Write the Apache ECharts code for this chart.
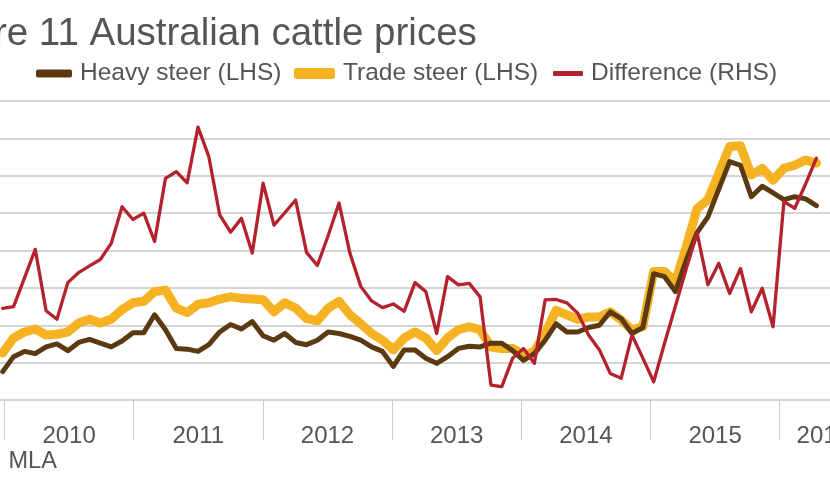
<!DOCTYPE html>
<html>
<head>
<meta charset="utf-8">
<script src="https://cdn.jsdelivr.net/npm/echarts@6/dist/echarts.min.js"></script>
<style>
html,body{margin:0;padding:0;background:#fff;}
#chart{width:830px;height:483px;}
</style>
</head>
<body>
<div id="chart"></div>
<script>
// Year categories for the x axis
const years = ['2010','2011','2012','2013','2014','2015','2016'];
// Monthly data, Jan 2010 onwards (76 months)
const heavySteer = [238,258,265,262,271,275,266,277,281,276,271,279,290,290,314,294,269,268,265,274,291,301,295,305,286,280,289,277,274,280,291,289,285,280,271,265,245,267,267,256,249,258,269,272,271,276,276,266,253,262,280,302,291,291,297,300,318,309,289,297,369,365,345,387,424,445,482,519,514,472,486,477,468,472,469,460];
const tradeSteer = [263,283,291,295,287,288,291,303,308,303,308,321,330,332,345,347,323,317,328,330,335,338,336,335,334,318,330,323,309,306,323,332,314,302,289,280,267,283,291,283,266,283,294,298,294,271,269,269,260,265,289,320,314,308,311,311,318,307,294,298,372,372,358,405,456,468,503,539,540,501,510,494,510,514,521,517];
const difference = [24.5,25.0,32.6,40.3,23.9,21.6,31.4,34.1,35.9,37.6,41.9,51.7,48.3,50.0,42.4,59.3,61.1,58.1,73.0,65.1,49.5,44.9,48.6,39.3,58.0,46.8,50.1,53.5,39.5,36.0,44.0,52.7,39.3,30.4,26.5,24.7,25.7,23.7,31.4,29.0,17.8,33.0,30.8,31.2,27.6,4.0,3.6,11.2,13.8,9.8,26.8,26.9,26.0,23.2,17.4,13.4,7.1,5.8,17.4,11.2,4.9,15.2,25.1,35.1,44.7,30.8,36.6,28.5,35.2,23.6,29.9,19.6,53.1,51.3,57.8,64.7];
const seriesNames = ['Heavy steer (LHS)','Trade steer (LHS)','Difference (RHS)'];

const toPairs = arr => arr.map((v, i) => [i, v]);
const FONT = "'Liberation Sans', Arial, Helvetica, sans-serif";
const TEXT = '#555555';
const C_HEAVY = '#5b3a12', C_TRADE = '#f5b324', C_DIFF = '#b3222d';

const chart = echarts.init(document.getElementById('chart'), null, {renderer:'canvas'});
const legendText = {fontSize:24.5, color:TEXT, fontFamily:FONT, padding:[0,0,0,3]};
const legendBase = {top:61, padding:0, textStyle:legendText, selectedMode:false};
chart.setOption({
  animation:false,
  backgroundColor:'#ffffff',
  title:{
    text:'Figure 11 Australian cattle prices',
    left:-81, top:15, padding:0,
    textStyle:{fontSize:38.5, fontWeight:'normal', color:TEXT, fontFamily:FONT}
  },
  graphic:[{
    type:'text', left:-79, top:450,
    style:{text:'Source: MLA', fontSize:23.5, fill:TEXT, fontFamily:FONT}
  }],
  legend:[
    Object.assign({data:[{name:seriesNames[0], icon:'roundRect', itemStyle:{color:C_HEAVY}}], left:36, itemWidth:36, itemHeight:8}, legendBase),
    Object.assign({data:[{name:seriesNames[1], icon:'roundRect', itemStyle:{color:C_TRADE}}], left:294, itemWidth:41, itemHeight:11}, legendBase),
    Object.assign({data:[{name:seriesNames[2], icon:'roundRect', itemStyle:{color:C_DIFF}}], left:553, itemWidth:30, itemHeight:5}, legendBase)
  ],
  grid:[
    {left:0, right:0, top:101, bottom:83, outerBoundsMode:'none'},
    {left:4.5, right:-78.9, top:101, bottom:83, outerBoundsMode:'none'}
  ],
  xAxis:[
    {type:'value', gridIndex:0, min:-0.25, max:76.25, show:false},
    {type:'category', gridIndex:1, boundaryGap:true,
     data: years.map((y, i) => i === years.length - 1 ? {value:y, textStyle:{padding:[0,42,0,0]}} : y),
     axisLine:{show:false},
     axisTick:{show:true, interval:0, length:40, lineStyle:{color:'#cccccc', width:1}},
     axisLabel:{fontSize:24, color:TEXT, fontFamily:FONT, margin:24, interval:0},
     splitLine:{show:false}}
  ],
  yAxis:[
    {type:'value', gridIndex:0, min:200, max:600, interval:50,
     axisLine:{show:false}, axisTick:{show:false}, axisLabel:{show:false},
     splitLine:{show:true, lineStyle:{color:'#c6c6c6', width:1.5}}},
    {type:'value', gridIndex:0, position:'right', min:0, max:80, interval:10,
     axisLine:{show:false}, axisTick:{show:false}, axisLabel:{show:false}, splitLine:{show:false}},
    {type:'value', gridIndex:1, show:false, min:0, max:1}
  ],
  series:[
    {name:seriesNames[1], type:'line', xAxisIndex:0, yAxisIndex:0, data:toPairs(tradeSteer), symbol:'none', z:2,
     lineStyle:{color:C_TRADE, width:9, cap:'round', join:'round'}, itemStyle:{color:C_TRADE}},
    {name:seriesNames[0], type:'line', xAxisIndex:0, yAxisIndex:0, data:toPairs(heavySteer), symbol:'none', z:3,
     lineStyle:{color:C_HEAVY, width:5, cap:'round', join:'round'}, itemStyle:{color:C_HEAVY}},
    {name:seriesNames[2], type:'line', xAxisIndex:0, yAxisIndex:1, data:toPairs(difference), symbol:'none', z:4,
     lineStyle:{color:C_DIFF, width:3.3, cap:'round', join:'round'}, itemStyle:{color:C_DIFF}}
  ]
});
</script>
</body>
</html>
